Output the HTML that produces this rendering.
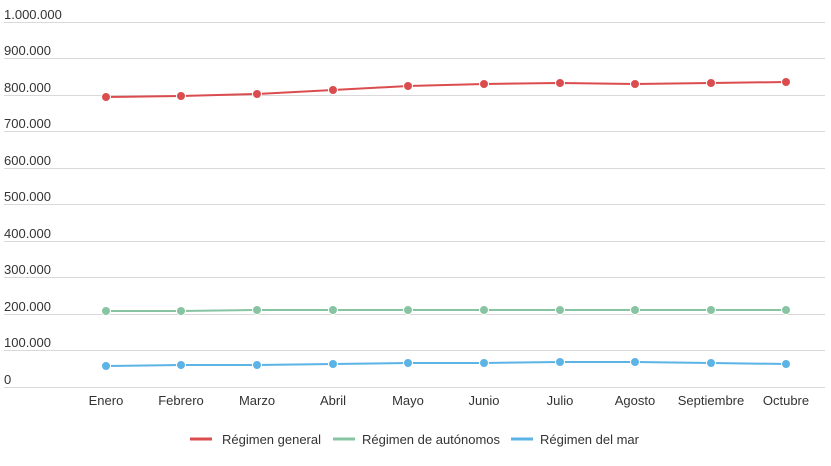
<!DOCTYPE html>
<html><head><meta charset="utf-8"><style>
body{margin:0;background:#fff;}
text{font-family:"Liberation Sans",sans-serif;font-size:13px;fill:#333;}
</style></head><body>
<svg width="831" height="461" xmlns="http://www.w3.org/2000/svg">
<g stroke="#d9d9d9" stroke-width="1">
<line x1="4" x2="825" y1="22.5" y2="22.5"/><line x1="4" x2="825" y1="58.5" y2="58.5"/>
<line x1="4" x2="825" y1="95.5" y2="95.5"/><line x1="4" x2="825" y1="131.5" y2="131.5"/>
<line x1="4" x2="825" y1="168.5" y2="168.5"/><line x1="4" x2="825" y1="204.5" y2="204.5"/>
<line x1="4" x2="825" y1="241.5" y2="241.5"/><line x1="4" x2="825" y1="277.5" y2="277.5"/>
<line x1="4" x2="825" y1="314.5" y2="314.5"/><line x1="4" x2="825" y1="350.5" y2="350.5"/>
<line x1="4" x2="825" y1="387.5" y2="387.5"/>
</g>
<g>
<text x="4" y="19">1.000.000</text><text x="4" y="55">900.000</text><text x="4" y="92">800.000</text>
<text x="4" y="128">700.000</text><text x="4" y="165">600.000</text><text x="4" y="201">500.000</text>
<text x="4" y="238">400.000</text><text x="4" y="274">300.000</text><text x="4" y="311">200.000</text>
<text x="4" y="347">100.000</text><text x="4" y="384">0</text>
</g>
<g text-anchor="middle">
<text x="106" y="405">Enero</text><text x="181" y="405">Febrero</text><text x="257" y="405">Marzo</text>
<text x="333" y="405">Abril</text><text x="408" y="405">Mayo</text><text x="484" y="405">Junio</text>
<text x="560" y="405">Julio</text><text x="635" y="405">Agosto</text><text x="711" y="405">Septiembre</text>
<text x="786" y="405">Octubre</text>
</g>
<g fill="none" stroke-width="2">
<polyline stroke="#db4c4f" points="106,97 181,96 257,94 333,90 408,86 484,84 560,83 635,84 711,83 786,82"/>
<polyline stroke="#87c4a1" points="106,311 181,311 257,310 333,310 408,310 484,310 560,310 635,310 711,310 786,310"/>
<polyline stroke="#5cb3e6" points="106,366 181,365 257,365 333,364 408,363 484,363 560,362 635,362 711,363 786,364"/>
</g>
<g fill="#db4c4f" stroke="#fff" stroke-width="1">
<circle cx="106" cy="97" r="4.5"/><circle cx="181" cy="96" r="4.5"/><circle cx="257" cy="94" r="4.5"/><circle cx="333" cy="90" r="4.5"/><circle cx="408" cy="86" r="4.5"/><circle cx="484" cy="84" r="4.5"/><circle cx="560" cy="83" r="4.5"/><circle cx="635" cy="84" r="4.5"/><circle cx="711" cy="83" r="4.5"/><circle cx="786" cy="82" r="4.5"/>
</g>
<g fill="#87c4a1" stroke="#fff" stroke-width="1">
<circle cx="106" cy="311" r="4.5"/><circle cx="181" cy="311" r="4.5"/><circle cx="257" cy="310" r="4.5"/><circle cx="333" cy="310" r="4.5"/><circle cx="408" cy="310" r="4.5"/><circle cx="484" cy="310" r="4.5"/><circle cx="560" cy="310" r="4.5"/><circle cx="635" cy="310" r="4.5"/><circle cx="711" cy="310" r="4.5"/><circle cx="786" cy="310" r="4.5"/>
</g>
<g fill="#5cb3e6" stroke="#fff" stroke-width="1">
<circle cx="106" cy="366" r="4.5"/><circle cx="181" cy="365" r="4.5"/><circle cx="257" cy="365" r="4.5"/><circle cx="333" cy="364" r="4.5"/><circle cx="408" cy="363" r="4.5"/><circle cx="484" cy="363" r="4.5"/><circle cx="560" cy="362" r="4.5"/><circle cx="635" cy="362" r="4.5"/><circle cx="711" cy="363" r="4.5"/><circle cx="786" cy="364" r="4.5"/>
</g>
<g stroke-width="3">
<line x1="190" x2="212" y1="439" y2="439" stroke="#db4c4f"/>
<line x1="333" x2="355" y1="439" y2="439" stroke="#87c4a1"/>
<line x1="511" x2="533" y1="439" y2="439" stroke="#5cb3e6"/>
</g>
<text x="222" y="444">Régimen general</text>
<text x="362" y="444">Régimen de autónomos</text>
<text x="540" y="444">Régimen del mar</text>
</svg>
</body></html>
